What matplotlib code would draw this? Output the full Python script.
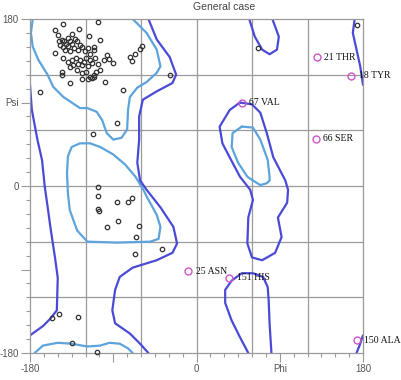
import matplotlib
matplotlib.use("Agg")
import matplotlib.pyplot as plt

# ---------------- data ----------------
title = "General case"
x_tick_vals = [-180, -90, 0, 90, 180]
x_tick_labels = ["-180", "", "0", "Phi", "180"]
y_tick_vals = [-180, -90, 0, 90, 180]
y_tick_labels = ["-180", "", "0", "Psi", "180"]
grid_vals = [-120, -60, 0, 60, 120]

# residues (phi, psi) in allowed / favoured regions
res_phi = [-144, -106, -153, -150, -135, -127, -116, -139, -149,
           -145, -143, -141, -148, -144, -139, -137, -135, -131, -129, -126,
           -132, -128, -124, -142, -137, -121, -117,
           -104, -111, -111, -153, -144, -139, -135, -130, -126, -122, -128,
           -133, -124, -119, -115, -110, -115, -113, -106, -117, -97, -95, -90,
           -100, -104, -109, -115, -111, -124, -129, -137, -119, -145, -145,
           -137, -124, -117, -113, -111, -99, -72, -70, -66, -61, -59, -29,
           -79, -169, -86, -112,
           67, 173,
           -106, -106, -86, -74, -70, -107, -105, -85, -97, -62, -65, -66, -37,
           -156, -149, -128, -135, -108]
res_psi = [175, 177, 168, 163, 164, 169, 162, 159, 156,
           157, 156, 153, 152, 150, 151, 156, 153, 158, 156, 152,
           149, 147, 150, 147, 145, 145, 149,
           157, 150, 147, 143, 138, 134, 136, 138, 136, 134, 132,
           130, 130, 138, 142, 138, 136, 133, 131, 129, 141, 137, 133,
           136, 125, 123, 118, 120, 122, 125, 128, 123, 123, 120,
           111, 115, 115, 116, 118, 112, 139, 135, 142, 148, 151, 120,
           104, 101, 68, 56,
           149, 174,
           -1, -11, -17, -17, -13, -25, -27, -38, -44, -43, -55, -73, -68,
           -142, -138, -141, -169, -179]

# outliers
out_phi = [130, 167, 49, 129, -9, 35, 173]
out_psi = [139, 119, 90, 51, -92, -99, -166]
out_labels = ["21 THR", "18 TYR", "67 VAL", "66 SER", "25 ASN", "151 HIS", "150 ALA"]

# favoured-region contours (light blue)
fav_beta_top_phi = [-177, -179, -177, -171, -161, -155, -144, -135, -126, -118, -108, -102,
                    -97, -90, -81, -75, -74, -72, -64, -54, -43, -39, -43, -54, -69]
fav_beta_top_psi = [180, 165, 150, 136, 120, 107, 96, 90, 84, 84, 80, 71,
                    57, 50, 52, 61, 82, 96, 106, 112, 122, 129, 147, 165, 180]
fav_beta_bot_phi = [-175, -166, -150, -135, -118, -104, -94, -83, -74, -69]
fav_beta_bot_psi = [-180, -172, -169, -170, -173, -172, -169, -170, -175, -180]
fav_alpha_phi = [-140, -139, -135, -126, -115, -104, -90, -77, -66, -58, -53, -43, -39,
                 -41, -50, -86, -118, -129, -137, -139, -140]
fav_alpha_psi = [14, 32, 42, 46, 46, 42, 34, 23, 10, -3, -13, -31, -44,
                 -57, -60, -61, -60, -48, -26, -8, 14]
fav_left_phi = [49, 39, 38, 45, 55, 61, 69, 76, 79, 79, 77, 69, 61, 49]
fav_left_psi = [64, 57, 42, 25, 10, 6, 1, 3, 6, 10, 28, 50, 63, 64]

# allowed-region contours (dark blue)
alw_a_phi = [-52, -43, -29, -22, -26, -43, -58, -62, -62, -64, -61, -54, -39, -25, -21,
             -26, -43, -69, -83, -88, -91, -88, -72, -61, -52]
alw_a_psi = [180, 158, 139, 120, 111, 102, 93, 75, 50, 25, 6, -4, -23, -44, -62,
             -72, -80, -88, -98, -112, -134, -148, -159, -170, -180]
alw_b_phi = [-180, -178, -172, -167, -164, -161, -158, -153, -150, -151, -158, -166, -180]
alw_b_psi = [109, 82, 50, 28, -1, -22, -44, -77, -99, -134, -143, -151, -161]
alw_c_top_phi = [171, 169, 173, 177, 180]
alw_c_top_psi = [180, 165, 147, 129, 109]
alw_c_bot_phi = [173, 177, 180]
alw_c_bot_psi = [-180, -170, -161]
alw_d_top_phi = [57, 63, 71, 79, 87, 89, 82]
alw_d_top_psi = [180, 161, 147, 142, 147, 161, 180]
alw_d_bot_phi = [56, 47, 38, 31, 31, 38, 49, 61, 72, 77, 78, 79, 81]
alw_d_bot_psi = [-180, -163, -145, -126, -112, -102, -94, -94, -98, -109, -123, -148, -180]
alw_e_phi = [47, 36, 25, 28, 39, 47, 58, 61, 56, 55, 60, 71, 85, 92, 88, 98, 99, 96,
             83, 76, 69, 60, 47]
alw_e_psi = [90, 82, 64, 46, 25, 10, -4, -15, -34, -62, -77, -80, -72, -55, -34, -18,
             -4, 6, 31, 57, 79, 88, 90]

# ---------------- styles ----------------
FAV = "#5da3dc"
ALW = "#4a4ad6"
GRID = "#9a9a9a"
TXT = "#555555"

fig = plt.figure(figsize=(4.01, 3.80), dpi=100)
ax = fig.add_axes([30 / 401, 27 / 380, 333 / 401, 334 / 380])
ax.set_xlim(-180, 180)
ax.set_ylim(-180, 180)

for g in grid_vals:
    ax.axvline(g, color=GRID, lw=0.9, zorder=1)
    ax.axhline(g, color=GRID, lw=0.9, zorder=1)

for px, py in [(fav_beta_top_phi, fav_beta_top_psi), (fav_beta_bot_phi, fav_beta_bot_psi),
               (fav_alpha_phi, fav_alpha_psi), (fav_left_phi, fav_left_psi)]:
    ax.plot(px, py, color=FAV, lw=1.6, zorder=2, solid_capstyle="round")
for px, py in [(alw_a_phi, alw_a_psi), (alw_b_phi, alw_b_psi),
               (alw_c_top_phi, alw_c_top_psi), (alw_c_bot_phi, alw_c_bot_psi),
               (alw_d_top_phi, alw_d_top_psi), (alw_d_bot_phi, alw_d_bot_psi),
               (alw_e_phi, alw_e_psi)]:
    ax.plot(px, py, color=ALW, lw=1.6, zorder=2, solid_capstyle="round")

ax.plot(res_phi, res_psi, linestyle="none", marker="o", ms=3.2, mfc="none",
        mec="#333333", mew=0.9, zorder=3, clip_on=False)
ax.plot(out_phi, out_psi, linestyle="none", marker="o", ms=5, mfc="none",
        mec="#cc55cc", mew=1.0, zorder=4, clip_on=False)
for x, y, lab in zip(out_phi, out_psi, out_labels):
    ax.annotate(lab, (x, y), xytext=(5.5, 0), textcoords="offset points",
                va="center", ha="left", fontsize=7, color="#111111",
                family=["Liberation Serif", "DejaVu Serif"], zorder=5,
                annotation_clip=False)

for s in ax.spines.values():
    s.set_color(GRID)
    s.set_linewidth(0.9)

ax.set_xticks(x_tick_vals)
ax.set_xticklabels(x_tick_labels)
ax.set_yticks(y_tick_vals)
ax.set_yticklabels(y_tick_labels)
ax.set_xticks(range(-180, 181, 15), minor=True)
ax.set_yticks(range(-180, 181, 15), minor=True)
ax.tick_params(which="major", length=6.8, width=0.8, color=GRID, labelsize=7,
               labelcolor=TXT, pad=1.2)
ax.tick_params(which="minor", length=3.0, width=0.8, color=GRID)
for lab in ax.get_xticklabels() + ax.get_yticklabels():
    lab.set_family(["Liberation Sans", "DejaVu Sans"])

fig.text(224 / 401, 1 - 7 / 380, title, ha="center", va="center", fontsize=7.5,
         color="#444444", family=["Liberation Sans", "DejaVu Sans"])

fig.savefig("out.png", dpi=100)
